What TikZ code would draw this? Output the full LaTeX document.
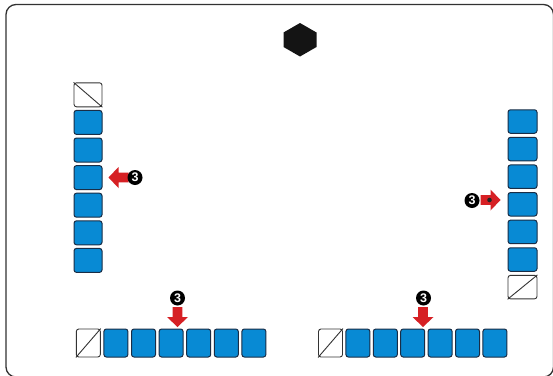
\documentclass[tikz,border=0pt]{standalone}
\usepackage{fontspec}
\newfontfamily\numfont{Liberation Sans}
\definecolor{bluefill}{RGB}{8,138,212}
\definecolor{bluebd}{RGB}{25,45,70}
\definecolor{arrred}{RGB}{214,32,36}
\definecolor{framegray}{RGB}{50,50,50}
\tikzset{
  sq/.style={draw=bluebd, fill=bluefill, rounded corners=2.5pt, line width=1pt, inner sep=0pt},
  wsq/.style={draw=black!80, fill=white, rounded corners=2.5pt, line width=0.9pt, inner sep=0pt},
  vsq/.style={minimum width=28pt, minimum height=24pt},
  hsq/.style={minimum width=24pt, minimum height=28pt},
  num/.style={circle, fill=black, text=white, minimum size=15pt, inner sep=0pt, font=\numfont\bfseries\fontsize{12.5}{12.5}\selectfont},
  redarrow/.pic={\fill[arrred] (-4.8,-20) -- (4.8,-20) -- (4.8,-10) -- (10.5,-10) -- (0,0) -- (-10.5,-10) -- (-4.8,-10) -- cycle;}
}
\begin{document}
\begin{tikzpicture}[x=1pt,y=-1pt]
\useasboundingbox (0,0) rectangle (553,375);
\fill[white] (0,0) rectangle (553,375);
\draw[framegray, line width=1.3pt, rounded corners=10pt] (6,4.5) rectangle (553.5,377);
% hexagon
\fill[black!92] (300,23) -- (316.5,32.5) -- (316.5,47) -- (300,56.5) -- (283.5,47) -- (283.5,32.5) -- cycle;
% left column
\node[wsq,vsq] (LW) at (88,94.8) {};
\draw[black!80, line width=0.9pt] (LW.north west) -- (LW.south east);
\foreach \i/\y in {1/122.4,2/150,3/177.6,4/205.2,5/232.8,6/260.4}
  \node[sq,vsq] (L\i) at (88,\y) {};
% right column
\foreach \i/\y in {1/121.5,2/149.1,3/176.7,4/204.3,5/231.9,6/259.5}
  \node[sq,vsq,minimum width=29pt,minimum height=23.5pt] (R\i) at (522.5,\y) {};
\node[wsq,vsq,minimum width=29pt,minimum height=23.5pt] (RW) at (522.5,287.1) {};
\draw[black!80, line width=0.9pt] (RW.south west) -- (RW.north east);
% bottom left row
\node[wsq,hsq] (BW) at (88.3,343) {};
\draw[black!80, line width=0.9pt] (BW.south west) -- (BW.north east);
\foreach \i/\x in {1/115.9,2/143.5,3/171.1,4/198.7,5/226.3,6/253.9}
  \node[sq,hsq] (B\i) at (\x,343) {};
% bottom right row
\node[wsq,hsq] (CW) at (330.5,343) {};
\draw[black!80, line width=0.9pt] (CW.south west) -- (CW.north east);
\foreach \i/\x in {1/357.9,2/385.3,3/412.7,4/440.1,5/467.5,6/494.9}
  \node[sq,hsq] (C\i) at (\x,343) {};
% arrows
\pic[rotate=-90] at (108.5,177.5) {redarrow};
\pic[rotate=90] at (500.5,200) {redarrow};
\fill[black!85] (489.5,200) circle (2.3pt);
\pic at (177.5,327) {redarrow};
\pic at (423,327) {redarrow};
% numbers
\node[num] (NL) at (135,177.5) {3};
\node[num] (NR) at (472,200.5) {3};
\node[num] (NB) at (177.5,298) {3};
\node[num] (NC) at (423.5,298) {3};
\end{tikzpicture}
\end{document}
